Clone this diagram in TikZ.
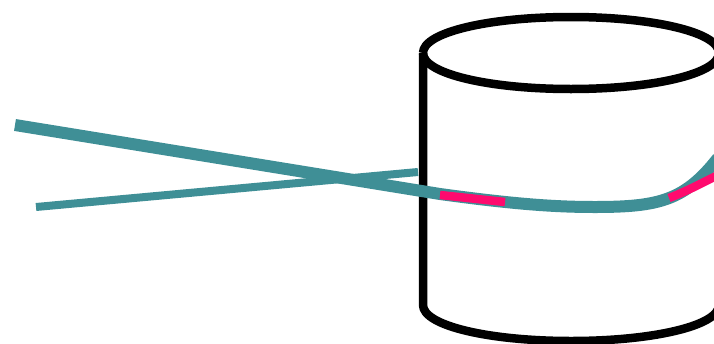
\documentclass[tikz,border=0pt]{standalone}
\definecolor{teal1}{HTML}{3F8F96}
\definecolor{pink1}{HTML}{FF0A6E}
\tikzset{px/.style={x=1pt,y=-1pt}}
\begin{document}
\begin{tikzpicture}[px,line join=round]
\useasboundingbox (0,0) rectangle (714,343);
\clip (0,0) rectangle (714,343);
\draw[line width=8.5pt] (423,53) .. controls (423,32) and (490,17) .. (571,17) .. controls (652,17) and (719,32) .. (719,53) .. controls (719,74) and (652,89) .. (571,89) .. controls (490,89) and (423,74) .. (423,53);
\draw[line width=8.5pt] (423,53) -- (423,305) .. controls (423,326) and (490,341) .. (571,341) .. controls (652,341) and (719,326) .. (719,305);
\draw[teal1,line width=8pt] (36,207) -- (418,172);
\draw[teal1,line width=12pt] (15,125) -- (440,194) .. controls (520,205) and (560,207) .. (595,207) .. controls (660,207) and (685,200) .. (718,158);
\draw[pink1,line width=8.5pt] (440,195) -- (505,202);
\draw[pink1,line width=8.5pt] (669,198) .. controls (685,192) and (700,184) .. (716,176);
\end{tikzpicture}
\end{document}
